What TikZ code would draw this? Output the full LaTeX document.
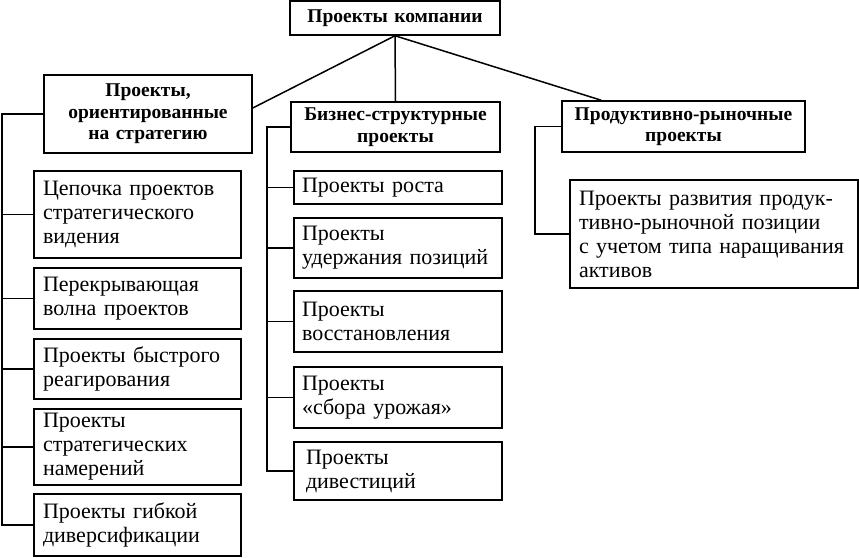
\documentclass[tikz,border=0pt]{standalone}
\usepackage{fontspec}
\setmainfont{Liberation Serif}
\begin{document}
\begin{tikzpicture}[x=1pt,y=-1pt,
  box/.style={draw, line width=1.5pt, inner xsep=9pt, inner ysep=0pt,
    font=\fontsize{22}{24}\selectfont, align=left},
  head/.style={box, font=\bfseries\fontsize{19.5}{21.5}\selectfont, align=center},
  conn/.style={line width=1.5pt}]
\useasboundingbox (0,0) rectangle (859,557);
% top
\node[head, text width=192pt, minimum height=34pt] (T) at (395,18) {Проекты компании};
\node[head, text width=190pt, minimum height=78pt] (L) at (148,114) {Проекты,\\ориентированные\\на стратегию};
\node[head, text width=191pt, minimum height=50pt] (M) at (395.5,127) {Бизнес-структурные\\проекты};
\node[head, text width=225pt, minimum height=51pt] (R) at (683.5,126.5) {Продуктивно-рыночные\\проекты};
% left children
\node[box, text width=189pt, minimum height=87pt] (c1) at (137.5,214.5) {Цепочка проектов\\стратегического\\видения};
\node[box, text width=189pt, minimum height=61pt] (c2) at (137.5,298.5) {Перекрывающая\\волна проектов};
\node[box, text width=189pt, minimum height=60pt] (c3) at (137.5,369) {Проекты быстрого\\реагирования};
\node[box, text width=189pt, minimum height=76pt] (c4) at (137.5,447) {Проекты\\стратегических\\намерений};
\node[box, text width=189pt, minimum height=62pt] (c5) at (137.5,525) {Проекты гибкой\\диверсификации};
% middle children
\node[box, text width=192pt, inner xsep=8pt, minimum height=33pt] (m1) at (398,187.5) {Проекты роста};
\node[box, text width=192pt, inner xsep=8pt, minimum height=60pt] (m2) at (398,248) {Проекты\\удержания позиций};
\node[box, text width=192pt, inner xsep=8pt, minimum height=61pt] (m3) at (398,321.5) {Проекты\\восстановления};
\node[box, text width=192pt, inner xsep=8pt, minimum height=61pt] (m4) at (398,397.5) {Проекты\\«сбора урожая»};
\node[box, text width=192pt, inner xsep=8pt, minimum height=58pt] (m5) at (398,471) {\hspace*{4pt}Проекты\\\hspace*{4pt}дивестиций};
% right child
\node[box, text width=270pt, minimum height=108pt] (r1) at (714,234) {Проекты развития продук-\\тивно-рыночной позиции\\с учетом типа наращивания\\активов};
% spine coordinates
\coordinate (ls) at (2,0);
\coordinate (ms) at (267,0);
\coordinate (rs) at (535,0);
% top connectors
\draw[conn] (T.south) -- ([yshift=6pt]L.east);
\draw[conn] (T.south) -- (M.north);
\draw[conn] (T.south) -- ([xshift=40pt]R.north west);
% left spine
\draw[conn] (L.west) -- (L.west -| ls) |- (c5.west);
\foreach \n in {c1,c2,c3,c4} \draw[conn] (\n.west) -- (\n.west -| ls);
% middle spine
\draw[conn] (M.west) -- (M.west -| ms) |- (m5.west);
\foreach \n in {m1,m2,m3,m4} \draw[conn] (\n.west) -- (\n.west -| ms);
% right spine
\draw[conn] (R.west) -- (R.west -| rs) |- (r1.west);
\end{tikzpicture}
\end{document}
